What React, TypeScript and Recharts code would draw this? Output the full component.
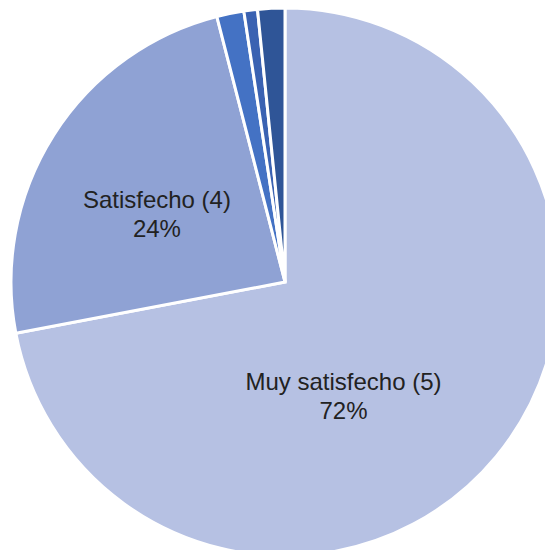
import { PieChart, Pie, Cell } from "recharts";

const categories = [
  "Muy satisfecho (5)",
  "Satisfecho (4)",
  "Neutral (3)",
  "Insatisfecho (2)",
  "Muy insatisfecho (1)",
];
const values = [72, 24, 1.6, 0.8, 1.6];
const percentLabels = ["72%", "24%", "", "", ""];

const COLORS = ["#B6C1E3", "#8FA2D4", "#4472C4", "#3A62B2", "#2F5597"];

// where the two visible labels sit (angle in degrees, fraction of radius)
const LABEL_PLACE: Record<number, { angle: number; r: number }> = {
  0: { angle: -63, r: 0.47 },
  1: { angle: 152.5, r: 0.527 },
};

const data = categories.map((name, i) => ({
  name,
  value: values[i],
  pct: percentLabels[i],
}));

const RAD = Math.PI / 180;

function renderLabel(props: any) {
  const { cx, cy, outerRadius, index } = props;
  const place = LABEL_PLACE[index];
  if (!place) return null;
  const x = cx + Math.cos(place.angle * RAD) * outerRadius * place.r;
  const y = cy - Math.sin(place.angle * RAD) * outerRadius * place.r;
  return (
    <text
      x={x}
      y={y}
      textAnchor="middle"
      fill="#222"
      fontFamily="'Liberation Sans', Arial, sans-serif"
      fontSize={24}
    >
      <tspan x={x} dy={-7}>
        {data[index].name}
      </tspan>
      <tspan x={x} dy={29}>
        {data[index].pct}
      </tspan>
    </text>
  );
}

export default function App() {
  return (
    <div style={{ position: "absolute", left: 0, top: 0, background: "#fff" }}>
      <PieChart width={545} height={550}>
        <Pie
          data={data}
          dataKey="value"
          nameKey="name"
          cx={280}
          cy={277}
          outerRadius={274}
          startAngle={90}
          endAngle={-270}
          stroke="#fff"
          strokeWidth={3}
          label={renderLabel}
          labelLine={false}
          isAnimationActive={false}
        >
          {data.map((_, i) => (
            <Cell key={i} fill={COLORS[i]} />
          ))}
        </Pie>
      </PieChart>
    </div>
  );
}
